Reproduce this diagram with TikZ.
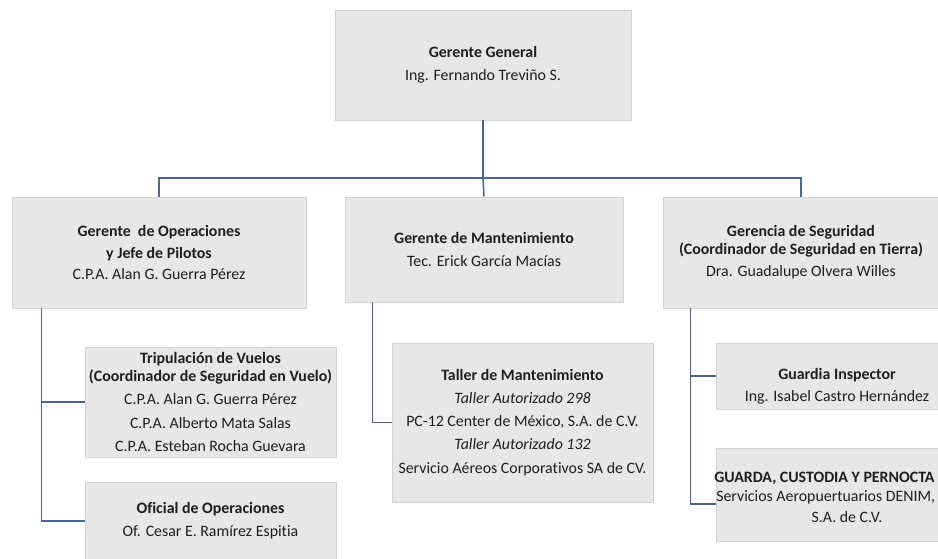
\documentclass[tikz,border=0pt]{standalone}
\usepackage{fontspec}
\setmainfont{Carlito}[Ligatures={NoCommon}]
\definecolor{boxfill}{HTML}{E8E7E7}
\definecolor{boxline}{HTML}{D3D3D3}
\definecolor{conn}{HTML}{4A6591}
\definecolor{txt}{HTML}{1E1E1E}
\tikzset{
  bx/.style 2 args={rectangle, fill=boxfill, draw=boxline, line width=0.6pt,
    minimum width=#1*0.75pt, minimum height=#2*0.75pt, inner sep=0pt,
    align=center, text=txt, font=\fontsize{11.9}{17.4}\selectfont},
  lbl/.style={inner sep=0pt, text=txt, align=center, font=\fontsize{11.9}{16.5}\selectfont},
  link/.style={draw=conn, line width=1.1pt}
}
\begin{document}
\begin{tikzpicture}[x=0.75pt,y=-0.75pt]
\useasboundingbox (0,0) rectangle (938,559);
\clip (0,0) rectangle (938,559);
\fill[white] (0,0) rectangle (938,559);

\node[bx={296}{110}] (gg) at (483,65) {\textbf{Gerente General}\\Ing. Fernando Treviño S.};
\node[bx={294}{111}] (ops) at (159,252.5) {\textbf{Gerente\ \ de Operaciones}\\[-1pt]\textbf{y Jefe de Pilotos}\\[-1pt]C.P.A. Alan G. Guerra Pérez};
\node[bx={278}{105}] (mant) at (484,249.5) {\textbf{Gerente de Mantenimiento}\\Tec. Erick García Macías};
\node[bx={276}{111}] (seg) at (801,252.5) {\textbf{Gerencia de Seguridad}\\[-4pt]\textbf{(Coordinador de Seguridad en Tierra)}\\[-1pt]Dra. Guadalupe Olvera Willes};

\node[bx={251}{110}] (trip) at (210.5,402) {\textbf{Tripulación de Vuelos}\\[-4pt]\textbf{(Coordinador de Seguridad en Vuelo)}\\C.P.A. Alan G. Guerra Pérez\\C.P.A. Alberto Mata Salas\\C.P.A. Esteban Rocha Guevara};
\node[bx={251}{78}] (ofi) at (210.5,521) {\textbf{Oficial de Operaciones}\\Of. Cesar E. Ramírez Espitia};

\node[bx={261}{159}] (taller) at (522.5,422.5) {\textbf{Taller de Mantenimiento}\\\textit{Taller Autorizado 298}\\PC-12 Center de México, S.A. de C.V.\\\textit{Taller Autorizado 132}\\Servicio Aéreos Corporativos SA de CV.};

\node[bx={242}{66}] (guardia) at (837,376) {};
\node[lbl] (guardiaT) at (837,386) {\textbf{Guardia Inspector}\\Ing. Isabel Castro Hernández};

\node[bx={262}{93}] (guarda) at (847,494.5) {};
\node[lbl, anchor=west] (guardaA) at (714,478) {\textbf{GUARDA, CUSTODIA Y PERNOCTA}};
\node[lbl, anchor=west] (guardaB) at (716,497) {Servicios Aeropuertuarios DENIM,};
\node[lbl] (guardaC) at (847,517) {S.A. de C.V.};

% top level connectors
\coordinate (bus) at (483,178);
\draw[link] (gg.south) -- (bus);
\draw[link] (ops.north) |- (bus) -| (seg.north);
\draw[link] (bus) -- (mant.north);

% operations branch
\coordinate (opsL) at ([xshift=22.5pt]ops.south west);
\draw[link] (opsL) |- (trip.west);
\draw[link] (opsL) |- (ofi.west);

% maintenance branch
\coordinate (mantL) at ([xshift=21pt]mant.south west);
\draw[link] (mantL) |- (taller.west);

% security branch
\coordinate (segL) at ([xshift=21pt]seg.south west);
\draw[link] (segL) |- (guardia.west);
\draw[link] (segL) |- ([yshift=-7pt]guarda.west);
\end{tikzpicture}
\end{document}
